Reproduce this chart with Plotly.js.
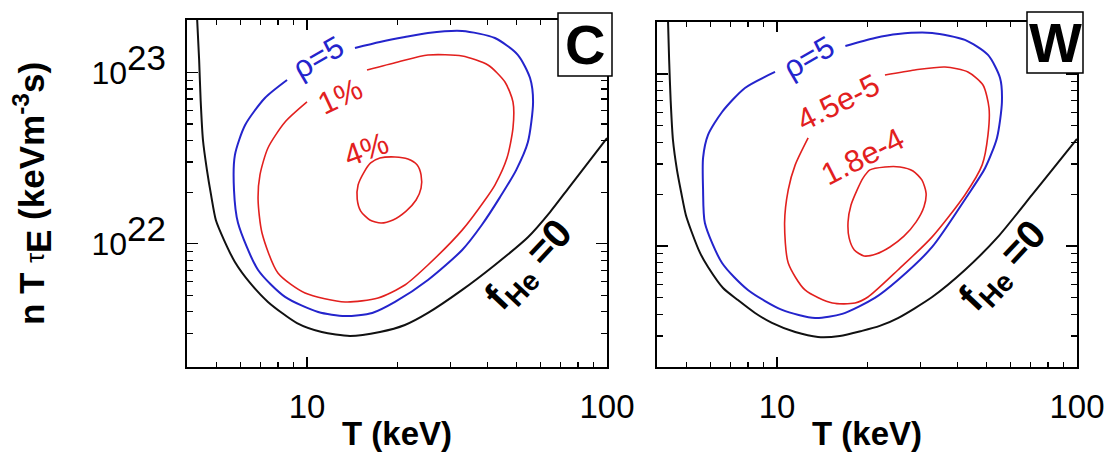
<!DOCTYPE html>
<html><head><meta charset="utf-8">
<script src="https://cdn.plot.ly/plotly-3.0.1.min.js"></script>
<style>html,body{margin:0;padding:0;background:#fff}#chart{width:1109px;height:452px}</style>
</head><body><div id="chart"></div>
<script>
// ---- Panel C (carbon) ----
const T_C_fHe0 = [4.3, 4.37, 4.42, 4.50, 4.64, 4.79, 4.97, 5.29, 5.75, 6.46, 7.41, 9.26, 11.2, 13.9, 17.5, 21.2, 25.3, 32.9, 42.3, 54.5, 64.6, 74.1, 100];
const N_C_fHe0 = [2.1e23, 1.18e23, 6.90e22, 4.03e22, 2.69e22, 1.92e22, 1.37e22, 1.05e22, 7.82e21, 5.90e21, 4.57e21, 3.44e21, 3.05e21, 2.89e21, 3.05e21, 3.35e21, 3.94e21, 5.37e21, 7.51e21, 1.09e22, 1.53e22, 2.09e22, 4.14e22];
const T_C_rho5 = [14.45, 17.5, 21.2, 25.3, 32.9, 42.3, 50.5, 55.4, 56.7, 54.5, 49.8, 44.0, 38.3, 32.9, 25.3, 19.65, 16.5, 13.4, 10.9, 8.45, 6.87, 5.89, 5.71, 5.75, 6.22, 7.24, 8.58];
const N_C_rho5 = [1.388e23, 1.504e23, 1.609e23, 1.698e23, 1.744e23, 1.588e23, 1.263e23, 9.27e22, 6.72e22, 3.92e22, 2.69e22, 1.87e22, 1.29e22, 9.19e21, 6.14e21, 4.57e21, 3.94e21, 3.78e21, 3.99e21, 4.89e21, 7.02e21, 1.32e22, 2.06e22, 3.29e22, 4.93e22, 7.09e22, 9.03e22];
const T_C_1pct = [15.85, 20.1, 25.3, 32.9, 40.1, 45.7, 48.6, 48.6, 46.4, 42.3, 39.2, 32.9, 25.3, 21.2, 17.25, 13.4, 9.85, 8.0, 7.08, 6.87, 6.97, 7.41, 8.45, 10.0];
const N_C_1pct = [1.033e23, 1.15e23, 1.263e23, 1.246e23, 1.104e23, 8.79e22, 6.72e22, 4.74e22, 3.16e22, 2.20e22, 1.80e22, 1.20e22, 7.51e21, 5.74e21, 4.82e21, 4.57e21, 5.15e21, 6.74e21, 1.155e22, 1.80e22, 2.52e22, 3.62e22, 5.13e22, 6.72e22];
const T_C_4pct = [17.5, 19.65, 21.7, 23.3, 24.0, 24.0, 23.1, 21.4, 19.35, 17.65, 16.2, 15.1, 14.7, 14.8, 15.5, 16.3, 17.5];
const N_C_4pct = [3.16e22, 3.21e22, 3.12e22, 2.88e22, 2.52e22, 2.11e22, 1.80e22, 1.55e22, 1.375e22, 1.32e22, 1.375e22, 1.55e22, 1.82e22, 2.20e22, 2.62e22, 2.96e22, 3.16e22];

// ---- Panel W (tungsten) ----
const T_W_fHe0 = [4.33, 4.37, 4.42, 4.50, 4.64, 4.79, 4.97, 5.21, 5.54, 5.89, 6.61, 7.41, 8.45, 9.62, 11.5, 13.7, 16.2, 19.2, 22.0, 25.3, 32.9, 42.3, 54.5, 70.8, 82.5, 100];
const N_W_fHe0 = [2.1e23, 1.206e23, 7.06e22, 4.13e22, 2.77e22, 2.06e22, 1.51e22, 1.19e22, 9.11e21, 7.55e21, 5.70e21, 4.85e21, 4.08e21, 3.57e21, 3.16e21, 2.96e21, 3.0e21, 3.21e21, 3.43e21, 3.81e21, 5.05e21, 7.25e21, 1.13e22, 1.98e22, 2.76e22, 4.19e22];
const T_W_rho5 = [16.9, 21.2, 25.3, 32.9, 42.3, 50.5, 55.4, 56.2, 54.1, 49.4, 43.3, 32.9, 25.3, 21.2, 16.5, 13.4, 10.4, 8.0, 6.56, 5.75, 5.67, 5.67, 5.89, 6.56, 7.82, 9.85];
const N_W_rho5 = [1.455e23, 1.62e23, 1.708e23, 1.731e23, 1.577e23, 1.290e23, 9.48e22, 6.87e22, 4.25e22, 2.84e22, 1.98e22, 9.87e21, 6.34e21, 4.99e21, 4.03e21, 3.81e21, 4.25e21, 5.55e21, 7.96e21, 1.36e22, 2.12e22, 3.25e22, 4.42e22, 6.01e22, 8.29e22, 1.027e23];
const T_W_45e5 = [22.9, 28.8, 36.3, 43.3, 48.6, 50.9, 50.5, 48.3, 42.3, 32.9, 25.3, 20.1, 18.2, 15.3, 12.4, 10.9, 10.6, 10.9, 11.5, 12.7];
const N_W_45e5 = [9.87e22, 1.055e23, 1.098e23, 1.027e23, 8.63e22, 6.34e22, 4.42e22, 2.96e22, 1.98e22, 1.13e22, 7.25e21, 5.05e21, 4.66e21, 4.66e21, 5.55e21, 7.96e21, 1.36e22, 2.12e22, 2.96e22, 4.25e22];
const T_W_18e4 = [20.4, 22.9, 25.7, 28.4, 30.4, 31.4, 30.9, 29.1, 26.5, 23.8, 21.4, 19.5, 18.1, 17.4, 17.25, 17.65, 18.5, 19.35, 20.4];
const N_W_18e4 = [2.77e22, 2.88e22, 2.88e22, 2.73e22, 2.42e22, 2.03e22, 1.69e22, 1.38e22, 1.14e22, 9.87e21, 8.99e21, 8.75e21, 9.48e21, 1.11e22, 1.38e22, 1.73e22, 2.12e22, 2.48e22, 2.77e22];

// ---- ticks and labels ----
const xTickVals = [5, 6, 7, 8, 9, 10, 20, 30, 40, 50, 60, 70, 80, 90, 100];
const xTickText = ['', '', '', '', '', '10', '', '', '', '', '', '', '', '', '100'];
const xMajorVals = [10, 100];
const yTickVals = [3e21, 4e21, 5e21, 6e21, 7e21, 8e21, 9e21, 1e22, 2e22, 3e22, 4e22, 5e22, 6e22, 7e22, 8e22, 9e22, 1e23];
const yTickText = ['', '', '', '', '', '', '',
  '10<sup><span style="font-size:35px">22</span></sup>',
  '', '', '', '', '', '', '', '',
  '10<sup><span style="font-size:35px">23</span></sup>'];
const yMajorVals = [1e22, 1e23];

const FONT = '"Liberation Sans", Arial, sans-serif';
const BLACK = '#111111', BLUE = '#2424cc', RED = '#e2201e';

function curve(x, y, color, width, xa, ya) {
  return {x: x, y: y, type: 'scatter', mode: 'lines', xaxis: xa, yaxis: ya,
    line: {color: color, width: width, shape: 'spline', smoothing: 0.7},
    hoverinfo: 'skip', showlegend: false};
}
// empty traces that only make the overlay tick axes exist
function holder(xa, ya) {
  return {x: [], y: [], type: 'scatter', mode: 'lines', xaxis: xa, yaxis: ya, hoverinfo: 'skip', showlegend: false};
}

const data = [
  curve(T_C_fHe0, N_C_fHe0, BLACK, 2, 'x', 'y'),
  curve(T_C_rho5, N_C_rho5, BLUE, 2, 'x', 'y'),
  curve(T_C_1pct, N_C_1pct, RED, 1.6, 'x', 'y'),
  curve(T_C_4pct, N_C_4pct, RED, 1.6, 'x', 'y'),
  curve(T_W_fHe0, N_W_fHe0, BLACK, 2, 'x2', 'y2'),
  curve(T_W_rho5, N_W_rho5, BLUE, 2, 'x2', 'y2'),
  curve(T_W_45e5, N_W_45e5, RED, 1.6, 'x2', 'y2'),
  curve(T_W_18e4, N_W_18e4, RED, 1.6, 'x2', 'y2'),
  holder('x3', 'y3'),
  holder('x4', 'y4'),
  holder('x5', 'y5'),
  holder('x6', 'y6')
];

function xAxis(domain, anchor) {
  return {type: 'log', domain: domain, anchor: anchor, range: [0.6, 2],
    tickmode: 'array', tickvals: xTickVals, ticktext: xTickText,
    ticks: 'inside', ticklen: 5, tickwidth: 1.1, tickcolor: '#000',
    showline: true, linecolor: '#000', linewidth: 1.6, mirror: 'ticks',
    showgrid: false, zeroline: false, ticklabelstandoff: 10,
    tickfont: {family: FONT, size: 33, color: '#000'},
    title: {text: '<b>T (keV)</b>', font: {family: FONT, size: 33, color: '#000'}, standoff: 0}};
}
function yAxis(domain, anchor, range, labels) {
  return {type: 'log', domain: domain, anchor: anchor, range: range,
    tickmode: 'array', tickvals: yTickVals, ticktext: yTickText, showticklabels: labels,
    ticks: 'inside', ticklen: 6, tickwidth: 1.1, tickcolor: '#000',
    showline: true, linecolor: '#000', linewidth: 1.6, mirror: 'ticks',
    showgrid: false, zeroline: false, ticklabelstandoff: 13,
    tickfont: {family: FONT, size: 32, color: '#000'}};
}
// overlay axes that only add tick marks on both sides of each frame
function xTickAxis(over, anchor, vals, len) {
  return {type: 'log', overlaying: over, anchor: anchor, side: 'top', range: [0.6, 2],
    tickmode: 'array', tickvals: vals, showticklabels: false,
    ticks: 'inside', ticklen: len, tickwidth: 1.2, tickcolor: '#000',
    showline: false, mirror: 'ticks', showgrid: false, zeroline: false};
}
function yTickAxis(over, anchor, range, vals, len) {
  return {type: 'log', overlaying: over, anchor: anchor, side: 'right', range: range,
    tickmode: 'array', tickvals: vals, showticklabels: false,
    ticks: 'inside', ticklen: len, tickwidth: 1.2, tickcolor: '#000',
    showline: false, mirror: 'ticks', showgrid: false, zeroline: false};
}

const rangeC = [21.280, 23.306], rangeW = [21.2965, 23.302];
const yC = yAxis([85/452, 432/452], 'x', rangeC, true);
yC.title = {text: '<b>n T </b><span style="font-size:25px">τ</span><sub><b><span style="font-size:35px">E</span></b></sub><b> (keVm<sup>-3</sup>s)</b>',
  font: {family: FONT, size: 35, color: '#000'}, standoff: 36};

const lab = (x, y, text, angle, size, color) => ({xref: 'paper', yref: 'paper', x: x, y: y, text: text, textangle: angle,
  showarrow: false, xanchor: 'center', yanchor: 'middle', font: {family: FONT, size: size, color: color}});

const layout = {
  width: 1109, height: 452, margin: {l: 0, r: 0, t: 0, b: 0},
  paper_bgcolor: '#fff', plot_bgcolor: 'rgba(0,0,0,0)', showlegend: false,
  xaxis: xAxis([187/1109, 607/1109], 'y'),
  yaxis: yC,
  xaxis2: xAxis([657/1109, 1077/1109], 'y2'),
  yaxis2: yAxis([85/452, 430/452], 'x2', rangeW, false),
  xaxis3: xTickAxis('x', 'y', xMajorVals, 10),
  yaxis3: yTickAxis('y', 'x', rangeC, yMajorVals, 11),
  xaxis4: xTickAxis('x2', 'y2', xMajorVals, 10),
  yaxis4: yTickAxis('y2', 'x2', rangeW, yMajorVals, 11),
  xaxis5: xTickAxis('x', 'y', xTickVals, 5),
  yaxis5: yTickAxis('y', 'x', rangeC, yTickVals, 6),
  xaxis6: xTickAxis('x2', 'y2', xTickVals, 5),
  yaxis6: yTickAxis('y2', 'x2', rangeW, yTickVals, 6),
  shapes: [
    {type: 'rect', xref: 'paper', yref: 'paper', x0: 558/1109, x1: 612/1109, y0: 1 - 76/452, y1: 1 - 13/452,
      line: {color: '#000', width: 1.5}, fillcolor: '#fff', layer: 'above'},
    {type: 'rect', xref: 'paper', yref: 'paper', x0: 1027/1109, x1: 1083/1109, y0: 1 - 73/452, y1: 1 - 12/452,
      line: {color: '#000', width: 1.5}, fillcolor: '#fff', layer: 'above'}
  ],
  annotations: [
    lab(318/1109, 1 - 58/452, 'ρ=5', -30, 31, BLUE),
    lab(340/1109, 1 - 97/452, '1%', -25, 31, RED),
    lab(366/1109, 1 - 150/452, '4%', -20, 31, RED),
    lab(530/1109, 1 - 266/452, '<b>f</b><sub><b>He</b></sub><b> =0</b>', -47, 40, '#000'),
    lab(585/1109, 1 - 44/452, '<b>C</b>', 0, 56, '#000'),
    lab(808/1109, 1 - 57/452, 'ρ=5', -30, 31, BLUE),
    lab(838/1109, 1 - 102/452, '4.5e-5', -27, 31, RED),
    lab(863/1109, 1 - 157/452, '1.8e-4', -27, 31, RED),
    lab(1004/1109, 1 - 267/452, '<b>f</b><sub><b>He</b></sub><b> =0</b>', -47, 40, '#000'),
    lab(1055/1109, 1 - 43/452, '<b>W</b>', 0, 56, '#000')
  ]
};

Plotly.newPlot('chart', data, layout, {staticPlot: true, displayModeBar: false});
</script>
</body></html>
